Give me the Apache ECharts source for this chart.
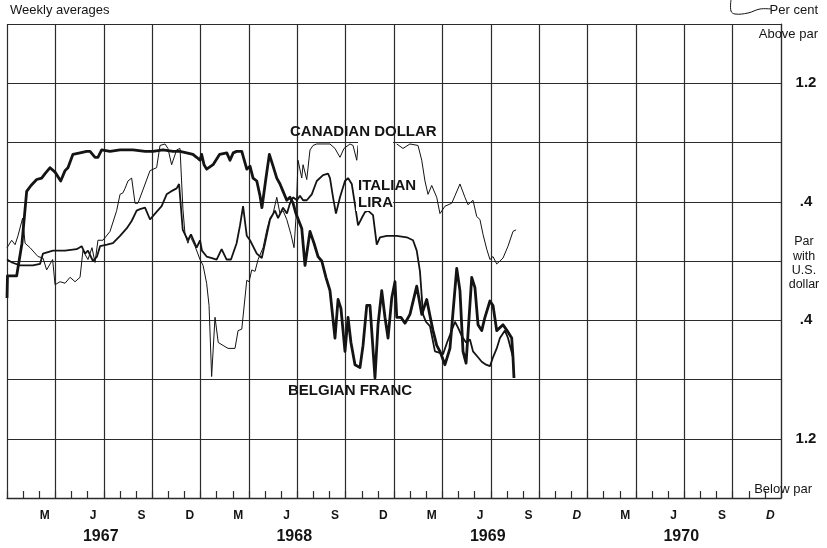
<!DOCTYPE html>
<html>
<head>
<meta charset="utf-8">
<script src="https://cdn.jsdelivr.net/npm/echarts@6/dist/echarts.min.js"></script>
<style>
html,body{margin:0;padding:0;background:#fff;}
#chart{width:827px;height:548px;}
</style>
</head>
<body>
<div id="chart"></div>
<script>
// x = months since 1 Jan 1967, y = per cent above (+) / below (-) par with U.S. dollar
const quarterLabels = ['M', 'J', 'S', 'D'];
const years = ['1967', '1968', '1969', '1970'];
const yTickText = { '12': '1.2', '4': '.4', '-4': '.4', '-12': '1.2' };

const belgianX = [0.00,0.03,0.60,0.93,1.22,1.49,1.84,2.15,2.36,2.67,2.98,3.33,3.60,3.78,4.09,4.53,4.94,5.15,5.46,5.64,5.87,6.39,7.01,7.81,8.56,9.05,9.67,10.29,10.73,11.14,11.53,11.76,11.97,12.07,12.22,12.38,12.78,13.19,13.63,13.83,14.03,14.24,14.56,14.87,15.07,15.26,15.49,15.69,15.81,16.06,16.27,16.50,16.73,16.93,17.12,17.35,17.55,17.74,17.92,18.28,18.48,18.79,19.04,19.29,19.52,19.78,20.03,20.34,20.53,20.71,20.96,21.15,21.33,21.58,21.89,22.08,22.31,22.51,22.82,23.01,23.24,23.44,23.63,23.86,24.06,24.17,24.43,24.68,24.99,25.41,25.72,26.03,26.23,26.42,26.65,26.85,27.16,27.47,27.89,28.09,28.28,28.47,28.82,29.02,29.21,29.44,29.64,29.95,30.14,30.37,30.76,31.01,31.30,31.38,31.44];
const belgianY = [-0.25,-0.10,-0.10,0.12,0.47,0.51,0.55,0.56,0.59,0.63,0.60,0.54,0.61,0.63,0.72,0.73,0.74,0.74,0.70,0.70,0.75,0.74,0.75,0.75,0.74,0.74,0.75,0.74,0.74,0.73,0.72,0.70,0.68,0.72,0.65,0.62,0.65,0.72,0.73,0.68,0.73,0.74,0.74,0.62,0.64,0.56,0.54,0.44,0.36,0.56,0.72,0.64,0.56,0.52,0.47,0.41,0.43,0.39,0.32,0.22,-0.03,0.20,0.12,0.03,0.00,-0.11,-0.20,-0.52,-0.26,-0.32,-0.61,-0.38,-0.55,-0.70,-0.72,-0.57,-0.30,-0.30,-0.79,-0.43,-0.20,-0.38,-0.52,-0.25,-0.14,-0.38,-0.38,-0.42,-0.36,-0.17,-0.36,-0.26,-0.37,-0.47,-0.57,-0.61,-0.70,-0.59,-0.05,-0.20,-0.61,-0.69,-0.11,-0.18,-0.43,-0.47,-0.38,-0.27,-0.30,-0.47,-0.43,-0.47,-0.52,-0.65,-0.79];

const italianX = [0.00,0.31,0.81,1.61,2.05,2.23,2.85,3.60,4.32,4.63,4.84,5.02,5.33,5.58,5.77,5.89,6.20,6.57,7.01,7.42,7.73,8.04,8.25,8.56,8.87,9.18,9.59,9.90,10.17,10.52,10.67,10.90,11.22,11.41,11.76,11.97,12.09,12.38,12.71,13.00,13.31,13.62,13.89,14.24,14.45,14.64,14.87,15.07,15.49,15.80,16.00,16.31,16.62,16.81,17.12,17.36,17.55,17.74,17.98,18.17,18.36,18.59,18.90,19.21,19.60,19.91,20.03,20.22,20.40,20.65,20.96,21.15,21.38,21.58,21.77,22.00,22.20,22.39,22.70,22.93,23.13,23.55,24.17,24.79,25.18,25.41,25.61,25.80,25.98,26.23,26.54,26.85,27.04,27.29,27.47,27.78,27.97,28.22,28.47,28.71,28.90,29.21,29.44,29.71,29.95,30.14,30.37,30.57,30.88,31.07,31.38];
const italianY = [0.01,-0.01,-0.03,-0.03,-0.02,0.05,0.07,0.07,0.08,0.10,0.05,0.07,0.00,0.03,0.10,0.11,0.11,0.12,0.17,0.22,0.27,0.34,0.35,0.36,0.28,0.32,0.37,0.45,0.47,0.49,0.52,0.21,0.14,0.18,0.09,0.14,0.07,0.03,0.02,0.01,0.08,0.01,0.01,0.12,0.24,0.37,0.17,0.14,0.05,0.02,0.12,0.28,0.34,0.29,0.36,0.32,0.39,0.43,0.41,0.44,0.41,0.41,0.45,0.54,0.58,0.59,0.56,0.43,0.32,0.43,0.54,0.56,0.52,0.38,0.24,0.29,0.33,0.34,0.31,0.11,0.16,0.17,0.17,0.16,0.14,0.07,-0.07,-0.36,-0.41,-0.44,-0.61,-0.62,-0.63,-0.55,-0.50,-0.41,-0.45,-0.51,-0.55,-0.53,-0.61,-0.65,-0.68,-0.70,-0.71,-0.65,-0.59,-0.52,-0.47,-0.52,-0.65];

const canadianX = [0.00,0.29,0.50,0.68,0.97,1.12,1.43,1.92,2.23,2.46,2.67,2.83,2.98,3.29,3.60,3.91,4.22,4.53,4.71,5.02,5.27,5.46,5.64,5.95,6.39,6.80,7.01,7.19,7.32,7.50,7.73,7.94,8.12,8.43,8.87,9.28,9.49,9.80,9.98,10.21,10.52,10.73,10.91,11.04,11.22,11.35,11.66,11.97,12.16,12.38,12.53,12.69,12.90,13.10,13.40,13.71,14.14,14.33,14.56,14.87,15.01,15.18,15.38,15.57,15.88,16.11,16.31,16.50,16.73,16.93,17.12,17.35,17.61,17.80,17.92,18.05,18.28,18.36,18.59,18.79,18.98,19.21,19.53,20.03,20.34,20.65,20.90,21.27,21.46,21.69,21.77,22.90,24.17,24.56,24.99,25.49,25.72,25.92,26.11,26.34,26.65,26.85,27.16,27.58,27.78,28.09,28.40,28.59,28.90,29.13,29.33,29.52,29.75,29.95,30.14,30.37,30.57,30.76,31.07,31.38,31.57];
const canadianY = [0.09,0.14,0.11,0.17,0.29,0.12,0.09,0.03,0.02,-0.06,-0.02,0.01,-0.16,-0.14,-0.15,-0.11,-0.14,-0.11,0.07,0.01,0.09,-0.01,0.14,0.14,0.20,0.34,0.45,0.46,0.49,0.54,0.56,0.39,0.39,0.48,0.61,0.63,0.78,0.79,0.76,0.65,0.75,0.76,0.35,0.18,0.12,0.17,0.10,0.01,-0.03,-0.15,-0.30,-0.78,-0.38,-0.55,-0.57,-0.59,-0.59,-0.47,-0.46,-0.13,-0.14,-0.06,-0.07,0.01,0.09,0.21,0.29,0.32,0.43,0.32,0.34,0.28,0.18,0.09,0.29,0.68,0.56,0.65,0.55,0.75,0.78,0.79,0.79,0.79,0.76,0.70,0.76,0.79,0.78,0.68,0.78,'-',0.79,0.76,0.79,0.78,0.68,0.54,0.45,0.51,0.43,0.32,0.37,0.39,0.44,0.52,0.43,0.38,0.41,0.30,0.28,0.18,0.08,0.01,0.03,-0.02,0.00,0.02,0.10,0.20,0.21];

function zip(xs, ys) { return xs.map((x, i) => [x, ys[i]]); }

const monthLabels = [];
for (let i = 0; i < 48; i++) monthLabels.push(i % 3 === 2 ? quarterLabels[((i - 2) / 3) % 4] : '');

const INK = '#141414';
const GRID = '#2b2b2b';
const FONT = '"Liberation Sans", Arial, Helvetica, sans-serif';

const chart = echarts.init(document.getElementById('chart'), null, { renderer: 'canvas' });

const txt = (x, y, s, size, weight, align) => ({
  type: 'text', x: x, y: y, z: 20,
  style: { text: s, fill: INK, font: (weight || 'normal') + ' ' + size + 'px ' + FONT, textAlign: align || 'left', textVerticalAlign: 'middle' }
});
const mask = (x, y, w, h) => ({ type: 'rect', z: 15, shape: { x: x, y: y, width: w, height: h }, style: { fill: '#ffffff' } });

chart.setOption({
  animation: false,
  backgroundColor: '#ffffff',
  grid: { left: 7, right: 46, top: 24, bottom: 50, containLabel: false },
  xAxis: [
    { type: 'value', min: 0, max: 48, interval: 3, position: 'bottom',
      axisLine: { show: true, onZero: false, lineStyle: { color: GRID, width: 1.3 } },
      axisTick: { show: false }, axisLabel: { show: false },
      splitLine: { show: true, lineStyle: { color: GRID, width: 1.2 } } },
    { type: 'value', min: 0, max: 48, interval: 1, position: 'bottom',
      axisLine: { show: false, onZero: false },
      axisTick: { show: true, inside: true, length: 7, lineStyle: { color: GRID, width: 1.2 } },
      axisLabel: { show: false }, splitLine: { show: false } },
    { type: 'category', data: monthLabels, boundaryGap: true, position: 'bottom',
      axisLine: { show: false, onZero: false }, axisTick: { show: false }, splitLine: { show: false },
      axisLabel: { interval: 0, margin: 12, color: INK, fontFamily: FONT, fontWeight: 'bold', fontSize: 12, padding: [0, 5, 0, 0],
        formatter: (v, i) => (v === 'D' && i >= 24) ? '{it|D}' : v,
        rich: { it: { fontStyle: 'italic', fontWeight: 'bold', fontSize: 12, fontFamily: FONT, color: INK } } } },
    { type: 'category', data: years, boundaryGap: true, position: 'bottom',
      axisLine: { show: false, onZero: false }, axisTick: { show: false }, splitLine: { show: false },
      axisLabel: { interval: 0, margin: 31, color: INK, fontFamily: FONT, fontWeight: 'bold', fontSize: 16, padding: [0, 6, 0, 0] } }
  ],
  yAxis: [
    { type: 'value', min: -1.6, max: 1.6, interval: 0.4, position: 'right',
      axisLine: { show: true, onZero: false, lineStyle: { color: GRID, width: 1.2 } },
      axisTick: { show: false },
      splitLine: { show: true, lineStyle: { color: GRID, width: 1.2 } },
      axisLabel: { margin: 25, align: 'center', color: INK, fontFamily: FONT, fontWeight: 'bold', fontSize: 15,
        formatter: v => yTickText[String(Math.round(v * 10))] || '' } }
  ],
  series: [
    { name: 'Canadian dollar', type: 'line', data: zip(canadianX, canadianY), showSymbol: false, symbol: 'none',
      lineStyle: { color: INK, width: 1 }, z: 3 },
    { name: 'Italian lira', type: 'line', data: zip(italianX, italianY), showSymbol: false, symbol: 'none',
      lineStyle: { color: INK, width: 1.8 }, z: 4 },
    { name: 'Belgian franc', type: 'line', data: zip(belgianX, belgianY), showSymbol: false, symbol: 'none',
      lineStyle: { color: INK, width: 2.8, join: 'round' }, z: 5 }
  ],
  graphic: [
    mask(358, 112, 35, 40),
    mask(356, 177, 37, 34),
    txt(10, 10, 'Weekly averages', 13),
    txt(818, 10, 'Per cent', 13, 'normal', 'right'),
    txt(818, 34, 'Above par', 13, 'normal', 'right'),
    txt(812, 489, 'Below par', 13, 'normal', 'right'),
    txt(804, 242, 'Par', 12.5, 'normal', 'center'),
    txt(804, 257, 'with', 12.5, 'normal', 'center'),
    txt(804, 271, 'U.S.', 12.5, 'normal', 'center'),
    txt(804, 285, 'dollar', 12.5, 'normal', 'center'),
    txt(290, 132, 'CANADIAN DOLLAR', 15, 'bold'),
    txt(358, 186, 'ITALIAN', 15, 'bold'),
    txt(358, 203, 'LIRA', 15, 'bold'),
    txt(288, 391, 'BELGIAN FRANC', 15, 'bold'),
    { type: 'polyline', z: 20, shape: { points: [[731, 0], [731, 11], [735, 14], [748, 13], [760, 9], [771, 9]], smooth: 0.4 },
      style: { stroke: INK, lineWidth: 1, fill: null } }
  ]
});
</script>
</body>
</html>
